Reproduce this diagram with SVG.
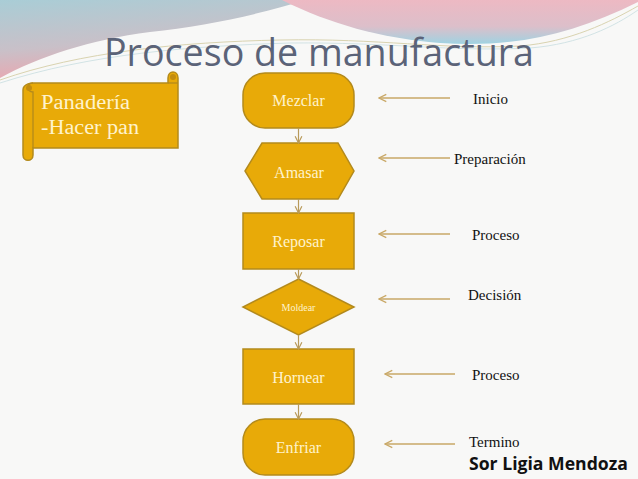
<svg xmlns="http://www.w3.org/2000/svg" width="638" height="479" viewBox="0 0 638 479">
<defs>
<linearGradient id="gl" x1="0" y1="0" x2="0.3" y2="1"><stop offset="0" stop-color="#a9cdd6"/><stop offset="0.6" stop-color="#c9c0c8"/><stop offset="1" stop-color="#eca5ae"/></linearGradient>
<linearGradient id="gr" x1="0" y1="0" x2="0" y2="1"><stop offset="0" stop-color="#edb9c3"/><stop offset="0.6" stop-color="#dcbfca"/><stop offset="1" stop-color="#9fd3e2"/></linearGradient>
<marker id="ah" viewBox="0 0 10 10" refX="9" refY="5" markerWidth="7" markerHeight="7" orient="auto-start-reverse"><path d="M1,1 L9,5 L1,9" fill="none" stroke="#c9a867" stroke-width="1.4"/></marker>
<marker id="ad" viewBox="0 0 10 10" refX="9" refY="5" markerWidth="7" markerHeight="7" orient="auto"><path d="M1,1 L9,5 L1,9" fill="none" stroke="#b89a5a" stroke-width="1.4"/></marker>
</defs>
<style>
.n{fill:#e8aa08;stroke:#b38a1c;stroke-width:1.5}
.nt{font-family:"Liberation Serif",serif;font-size:16px;fill:#fff3cc;text-anchor:middle;dominant-baseline:central}
.lb{font-family:"Liberation Serif",serif;font-size:15px;fill:#111}
.ar{stroke:#c9a867;stroke-width:1.3;fill:none;marker-end:url(#ah)}
.dn{stroke:#b89a5a;stroke-width:1.2;fill:none;marker-end:url(#ad)}
</style>
<rect width="638" height="479" fill="#f8f8f7"/>
<path d="M0,0 L305,0 C262,14 205,26 150,32 C90,40 40,56 0,78 Z" fill="url(#gl)"/>
<path d="M282,0 C330,24 380,38 440,43 C510,48 570,36 638,2 L638,0 Z" fill="url(#gr)"/>
<path d="M0,80 C80,52 180,42 280,40 C380,38 440,50 520,46 C570,42 610,22 638,6" fill="none" stroke="#d9d3b0" stroke-width="1"/>
<path d="M0,83 C90,54 190,46 290,43 C390,42 450,52 530,48 C580,44 615,26 638,10" fill="none" stroke="#c8dde0" stroke-width="0.8"/>
<text x="104" y="66" font-family="'Open Sans',sans-serif" font-size="38" fill="#5b6378" textLength="430" lengthAdjust="spacingAndGlyphs">Proceso de manufactura</text>

<g id="scroll">
<path d="M33,83 L168,83 L168,78 C168,70 178,70 178,78 L178,148 L33,148 L33,155 C33,162 23,162 23,155 L23,90 C23,83 33,83 33,83 Z" fill="#e8aa08" stroke="#b38a1c" stroke-width="1.5"/>
<path d="M33,83 C26,83 26,92 33,92 L33,148" fill="none" stroke="#b38a1c" stroke-width="1.3"/>
<path d="M168,83 L178,83" fill="none" stroke="#b38a1c" stroke-width="1.3"/>
<circle cx="29" cy="88" r="3" fill="#c28c10"/>
<circle cx="173" cy="77" r="3" fill="#c28c10"/>
<text x="41" y="109" font-family="'Liberation Serif',serif" font-size="20" fill="#fff3cc" textLength="89" lengthAdjust="spacingAndGlyphs">Panadería</text>
<text x="41" y="134" font-family="'Liberation Serif',serif" font-size="20" fill="#fff3cc" textLength="98" lengthAdjust="spacingAndGlyphs">-Hacer pan</text>
</g>

<g id="mezclar"><rect class="n" x="243" y="73" width="111" height="55" rx="22"/><text class="nt" x="298.5" y="100">Mezclar</text></g>
<g id="amasar"><polygon class="n" points="262,143 338,143 354,171 338,199 262,199 245,171"/><text class="nt" x="299" y="172">Amasar</text></g>
<g id="reposar"><rect class="n" x="243" y="213" width="111" height="56"/><text class="nt" x="298.5" y="241">Reposar</text></g>
<g id="moldear"><polygon class="n" points="298.5,279 354,307 298.5,335 243,307"/><text class="nt" x="298.5" y="307" style="font-size:10px">Moldear</text></g>
<g id="hornear"><rect class="n" x="243" y="349" width="111" height="55"/><text class="nt" x="298.5" y="377">Hornear</text></g>
<g id="enfriar"><rect class="n" x="243" y="419" width="111" height="56" rx="22"/><text class="nt" x="298.5" y="447">Enfriar</text></g>

<g id="connectors">
<line class="dn" x1="298.5" y1="128" x2="298.5" y2="143"/>
<line class="dn" x1="298.5" y1="199" x2="298.5" y2="213"/>
<line class="dn" x1="298.5" y1="269" x2="298.5" y2="279"/>
<line class="dn" x1="298.5" y1="335" x2="298.5" y2="349"/>
<line class="dn" x1="298.5" y1="404" x2="298.5" y2="419"/>
<line class="ar" x1="450" y1="98" x2="379" y2="98"/>
<line class="ar" x1="450" y1="158" x2="379" y2="158"/>
<line class="ar" x1="450" y1="234" x2="379" y2="234"/>
<line class="ar" x1="450" y1="299" x2="379" y2="299"/>
<line class="ar" x1="455" y1="374" x2="385" y2="374"/>
<line class="ar" x1="455" y1="444" x2="385" y2="444"/>
</g>

<g id="labels">
<text class="lb" x="473" y="104">Inicio</text>
<text class="lb" x="454" y="164">Preparación</text>
<text class="lb" x="472" y="240">Proceso</text>
<text class="lb" x="468" y="300">Decisión</text>
<text class="lb" x="472" y="380">Proceso</text>
<text class="lb" x="469" y="447">Termino</text>
<text x="469" y="470" font-family="'Open Sans',sans-serif" font-weight="bold" font-size="17" fill="#111" textLength="159" lengthAdjust="spacingAndGlyphs">Sor Ligia Mendoza</text>
</g>
</svg>
